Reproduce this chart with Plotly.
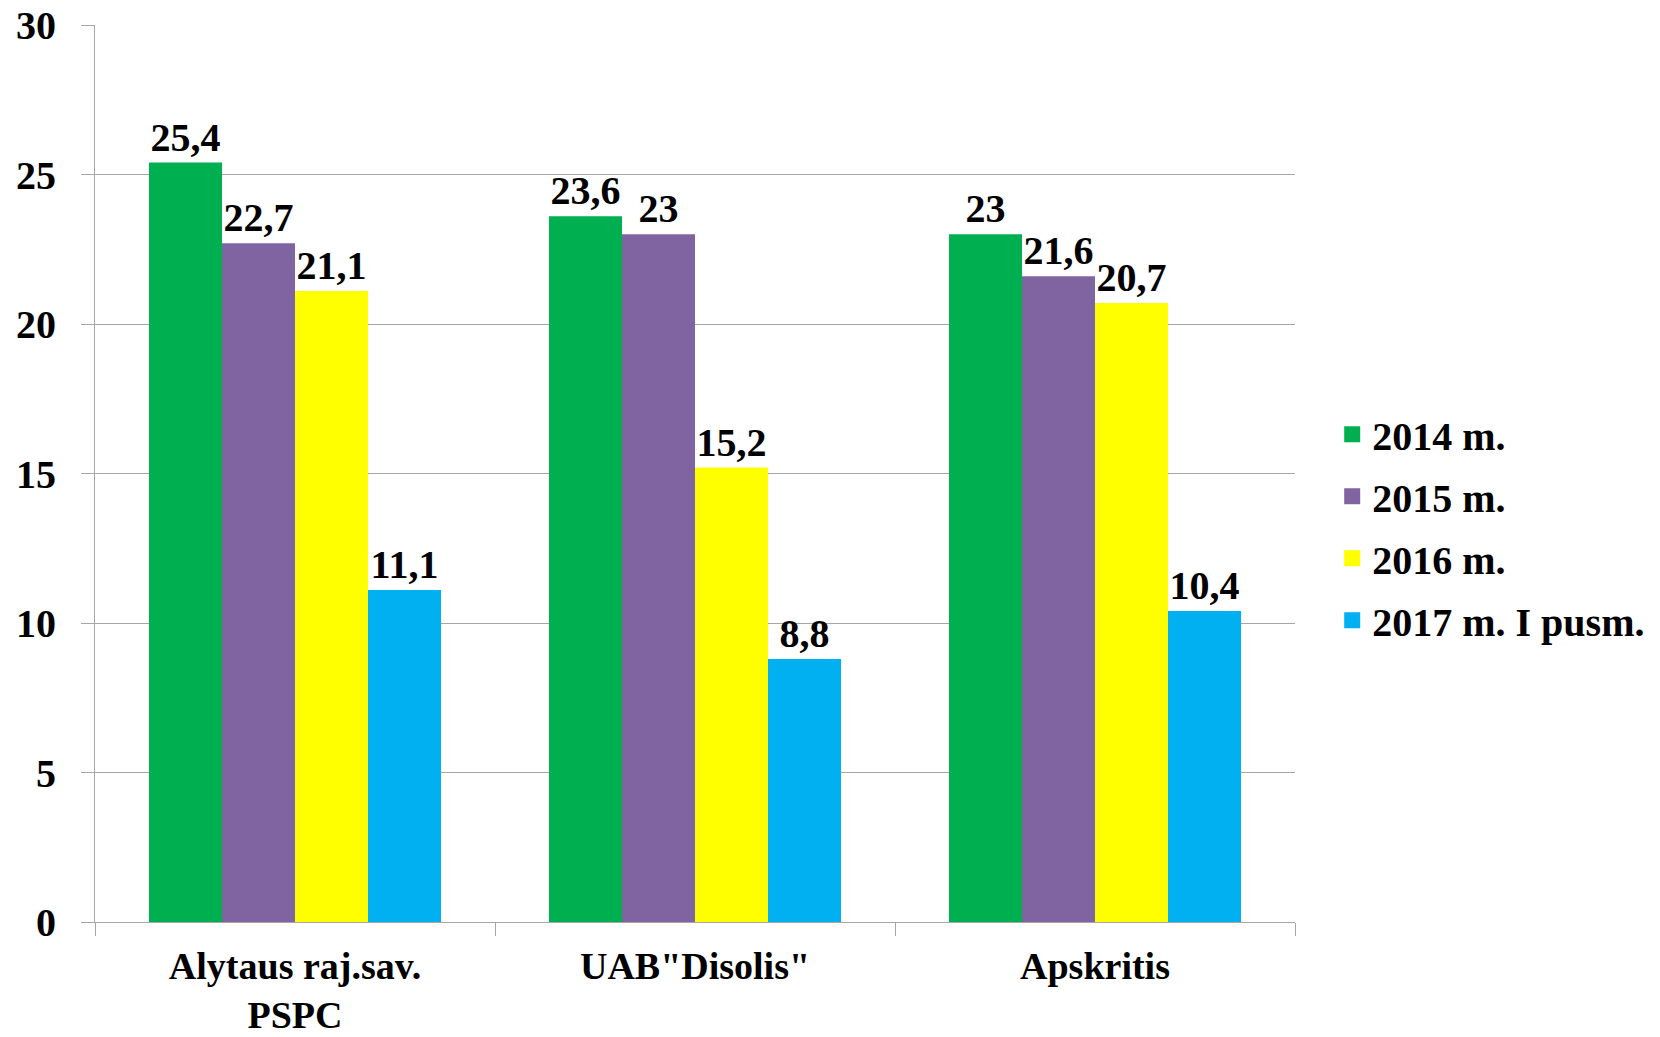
import plotly.graph_objects as go

categories = ["Alytaus raj.sav.<br>PSPC", "UAB\"Disolis\"", "Apskritis"]
series_names = ["2014 m.", "2015 m.", "2016 m.", "2017 m. I pusm."]
v2014 = [25.4, 23.6, 23]
v2015 = [22.7, 23, 21.6]
v2016 = [21.1, 15.2, 20.7]
v2017 = [11.1, 8.8, 10.4]
colors = ["#00B050", "#8064A2", "#FFFF00", "#00B0F0"]
y_ticks = [0, 5, 10, 15, 20, 25, 30]

FONT = "Liberation Serif"
GRID = "#A6A6A6"

def fmt(v):
    return f"{v:g}".replace(".", ",")

fig = go.Figure()
for i, (name, vals) in enumerate(zip(series_names, [v2014, v2015, v2016, v2017])):
    fig.add_trace(go.Bar(
        x=categories, y=vals, name=name,
        marker=dict(color=colors[i], line=dict(width=0)),
        text=[fmt(v) for v in vals],
        textposition="outside",
        textfont=dict(family=FONT, size=40, color="black", weight="bold"),
        cliponaxis=False,
        legendgroup=f"g{i}",
        showlegend=False,
    ))
    # legend proxy with a larger square symbol
    fig.add_trace(go.Scatter(
        x=[None], y=[None], mode="markers", name=name,
        marker=dict(symbol="square", size=22, color=colors[i]),
        legendgroup=f"g{i}", showlegend=True, hoverinfo="skip",
    ))

fig.update_layout(
    width=1660, height=1037,
    margin=dict(l=95, r=365, t=25, b=115, autoexpand=False),
    paper_bgcolor="white", plot_bgcolor="white",
    barmode="group", bargap=0.27, bargroupgap=0,
    font=dict(family=FONT, size=40, color="black", weight="bold"),
    showlegend=True,
    legend=dict(
        x=1.031, xanchor="left", y=0.44, yanchor="middle",
        font=dict(family=FONT, size=40, color="black", weight="bold"),
        tracegroupgap=7, bgcolor="rgba(0,0,0,0)",
    ),
)
fig.update_xaxes(
    showline=True, linecolor=GRID, linewidth=1,
    ticks="outside", tickson="boundaries", ticklen=13, tickcolor=GRID,
    ticklabelstandoff=10,
    tickfont=dict(family=FONT, size=38, color="black", weight="bold"),
    showgrid=False, automargin=False,
)
fig.update_yaxes(
    range=[0, 30], tickvals=y_ticks, ticktext=[str(t) for t in y_ticks],
    showline=True, linecolor=GRID, linewidth=1,
    ticks="outside", ticklen=13, tickcolor=GRID,
    ticklabelstandoff=17,
    showgrid=True, gridcolor=GRID, gridwidth=1,
    zeroline=False,
    tickfont=dict(family=FONT, size=40, color="black", weight="bold"),
    automargin=False,
)

fig.write_html(
    "out.html",
    config={"displayModeBar": False},
    post_script="document.body.style.margin='0';document.body.style.overflow='hidden';",
)
